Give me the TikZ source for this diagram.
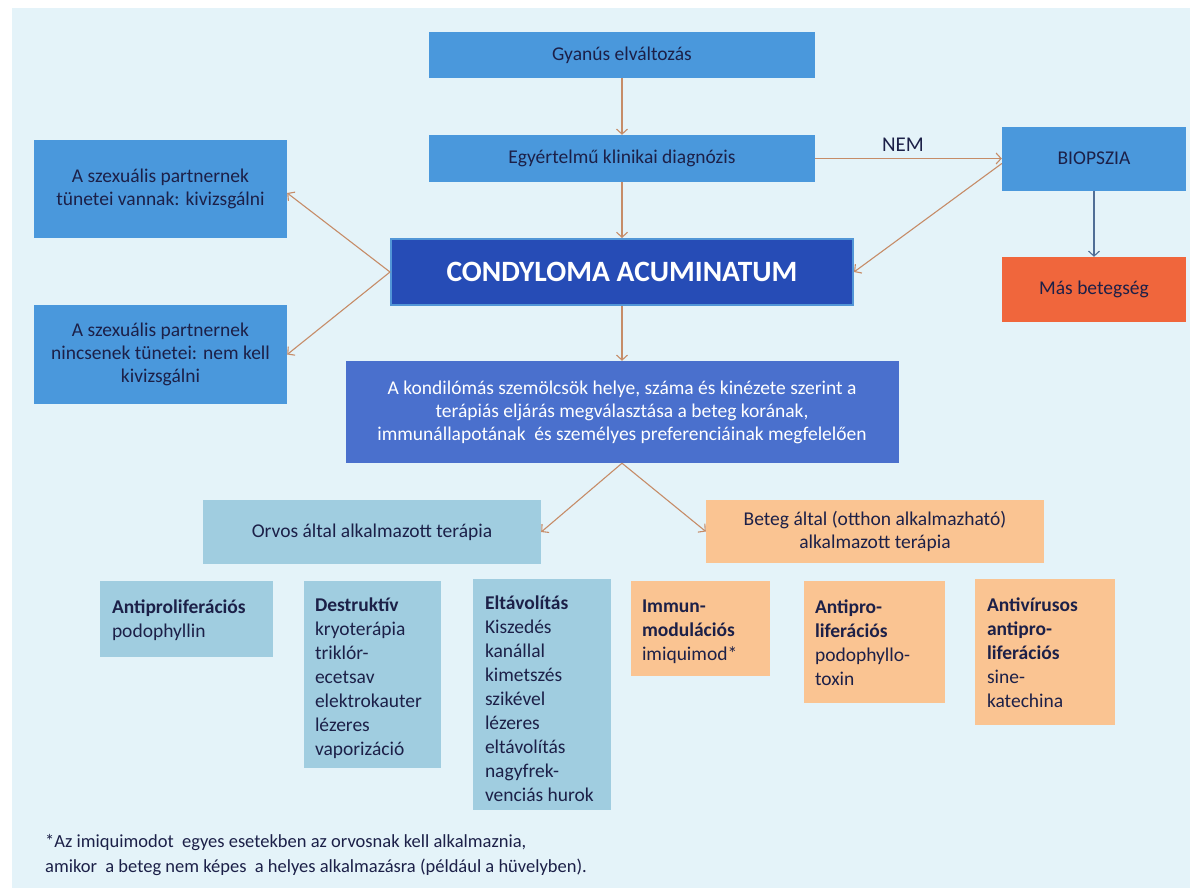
\documentclass[tikz,border=0pt]{standalone}
\usepackage{fontspec}
\setmainfont{Carlito}
\usetikzlibrary{arrows.meta,calc}
\definecolor{bgc}{RGB}{228,243,249}
\definecolor{midblue}{RGB}{74,152,220}
\definecolor{darkblue}{RGB}{38,76,182}
\definecolor{condborder}{RGB}{82,150,215}
\definecolor{purpblue}{RGB}{74,112,205}
\definecolor{redor}{RGB}{240,102,60}
\definecolor{lightb}{RGB}{160,205,224}
\definecolor{peach}{RGB}{250,196,146}
\definecolor{arrowc}{RGB}{198,140,104}
\definecolor{arrowb}{RGB}{80,110,150}
\definecolor{txt}{RGB}{28,32,72}
\begin{document}
\begin{tikzpicture}[x=1pt,y=-1pt,
  box/.style={rectangle, inner sep=0pt, text=txt, align=center, font=\fontsize{19.5}{23}\selectfont},
  mbox/.style={box, fill=midblue},
  lbox/.style={box, fill=lightb},
  pbox/.style={box, fill=peach},
  btxt/.style={inner sep=0pt, text=txt, align=left, anchor=north west, font=\fontsize{19.5}{24}\selectfont},
  arr/.style={draw=arrowc, line width=1.1pt, -{Straight Barb[length=5pt,width=11pt]}},
  arrb/.style={draw=arrowb, line width=1.1pt, -{Straight Barb[length=5pt,width=11pt]}},
]
\useasboundingbox (0,0) rectangle (1190,888);
\fill[white] (0,0) rectangle (1190,888);
\fill[bgc] (12,8) rectangle (1190,888);

% top column
\node[mbox, minimum width=386pt, minimum height=46pt] (gy) at (622,55) {Gyanús elváltozás};
\node[mbox, minimum width=386pt, minimum height=47pt] (egy) at (622,158.5) {Egyértelmű klinikai diagnózis};
\node[box, fill=darkblue, draw=condborder, line width=2pt, text=white, minimum width=462pt, minimum height=66pt,
      font=\fontsize{29.5}{32}\selectfont\bfseries] (cond) at (622,272) {CONDYLOMA ACUMINATUM};
\node[mbox, minimum width=253pt, minimum height=98pt] (left1) at (160.5,189) {A szexuális partnernek\\tünetei vannak: kivizsgálni};
\node[mbox, minimum width=253pt, minimum height=99pt] (left2) at (160.5,354.5) {A szexuális partnernek\\nincsenek tünetei: nem kell\\kivizsgálni};
\node[mbox, minimum width=184pt, minimum height=64pt] (bio) at (1094,158.5) {BIOPSZIA};
\node[box, fill=redor, minimum width=184pt, minimum height=65pt] (mas) at (1094,289.5) {Más betegség};
\node[box, fill=purpblue, text=white, minimum width=553pt, minimum height=102pt] (mid) at (622,412)
  {A kondilómás szemölcsök helye, száma és kinézete szerint a\\terápiás eljárás megválasztása a beteg korának,\\immunállapotának \ és személyes preferenciáinak megfelelően};
\node[lbox, minimum width=338pt, minimum height=64pt] (orvos) at (372,532) {Orvos által alkalmazott terápia};
\node[pbox, minimum width=338pt, minimum height=63pt] (beteg) at (875,531.5) {Beteg által (otthon alkalmazható)\\alkalmazott terápia};

% bottom boxes
\node[lbox, minimum width=173pt, minimum height=76pt] (antip) at (186.5,619) {};
\node[lbox, minimum width=137pt, minimum height=187pt] (destr) at (372.5,674.5) {};
\node[lbox, minimum width=138pt, minimum height=231pt] (eltav) at (542,694.5) {};
\node[pbox, minimum width=139pt, minimum height=95pt] (immun) at (700.5,628.5) {};
\node[pbox, minimum width=141pt, minimum height=122pt] (antipr) at (874.5,642) {};
\node[pbox, minimum width=140pt, minimum height=146pt] (antiv) at (1045,652) {};

\node[btxt] (tantip) at ($(antip.north west)+(12,19)$) {\textbf{Antiproliferációs}\\podophyllin};
\node[btxt] (tdestr) at ($(destr.north west)+(11,17)$) {\textbf{Destruktív}\\kryoterápia\\triklór-\\ecetsav\\elektrokauter\\lézeres\\vaporizáció};
\node[btxt] (teltav) at ($(eltav.north west)+(12,17)$) {\textbf{Eltávolítás}\\Kiszedés\\kanállal\\kimetszés\\szikével\\lézeres\\eltávolítás\\nagyfrek-\\venciás hurok};
\node[btxt] (timmun) at ($(immun.north west)+(11,19)$) {\textbf{Immun-}\\\textbf{modulációs}\\imiquimod*};
\node[btxt] (tantipr) at ($(antipr.north west)+(11,19)$) {\textbf{Antipro-}\\\textbf{liferációs}\\podophyllo-\\toxin};
\node[btxt] (tantiv) at ($(antiv.north west)+(12,19)$) {\textbf{Antivírusos}\\\textbf{antipro-}\\\textbf{liferációs}\\sine-\\katechina};

% footnote
\node[inner sep=0pt, text=txt, align=left, anchor=north west, font=\fontsize{18.5}{25}\selectfont] (foot) at (45,834)
  {*Az imiquimodot \ egyes esetekben az orvosnak kell alkalmaznia,\\amikor \ a beteg nem képes \ a helyes alkalmazásra (például a hüvelyben).};

% connectors
\draw[arr] (gy) -- (egy);
\draw[arr] (egy) -- (cond);
\draw[arr] (cond) -- (mid);
\draw[arr] (egy) -- node[pos=0.47, above=6pt, inner sep=0pt, text=txt, font=\fontsize{21}{24}\selectfont] (nem) {NEM} (bio);
\draw[arr] ([yshift=-5pt]bio.west) -- (cond.east);
\draw[arr] (cond.west) -- ([yshift=-4pt]left1.east);
\draw[arr] (cond.west) -- (left2.east);
\draw[arr] (mid.south) -- (orvos.east);
\draw[arr] (mid.south) -- (beteg.west);
\draw[arrb] (bio) -- (mas);
\end{tikzpicture}
\end{document}
